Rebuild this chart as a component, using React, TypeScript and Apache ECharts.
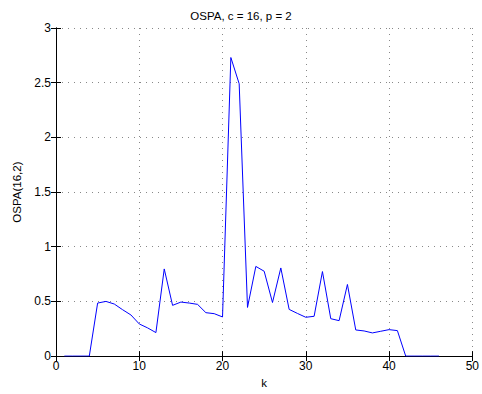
import React, { useEffect, useRef } from "react";
import * as echarts from "echarts";

const kValues = [1,2,3,4,5,6,7,8,9,10,11,12,13,14,15,16,17,18,19,20,21,22,23,24,25,26,27,28,29,30,31,32,33,34,35,36,37,38,39,40,41,42,43,44,45,46];
const ospaValues = [0,0,0,0,0.485,0.5,0.476,0.424,0.376,0.294,0.258,0.215,0.797,0.464,0.494,0.485,0.473,0.397,0.388,0.358,2.73,2.49,0.445,0.82,0.776,0.49,0.806,0.427,0.39,0.355,0.364,0.773,0.342,0.324,0.655,0.239,0.23,0.212,0.227,0.242,0.233,0,0,0,0,0];
const titleText = "OSPA, c = 16, p = 2";
const xName = "k";
const yName = "OSPA(16,2)";

const font = "'Liberation Sans', Arial, Helvetica, sans-serif";

export default function App() {
  const ref = useRef<HTMLDivElement>(null);
  useEffect(() => {
    if (!ref.current) return;
    const chart = echarts.init(ref.current, null, { renderer: "svg" });
    const tick = { show: true, inside: true, length: 5, lineStyle: { color: "#000", width: 1 } };
    const line = { show: true, lineStyle: { color: "#000", width: 1 } };
    const grid = { show: true, lineStyle: { color: "#888", type: [1, 5], width: 1 } };
    chart.setOption({
      animation: false,
      backgroundColor: "#fff",
      textStyle: { fontFamily: font },
      title: {
        text: titleText,
        left: "center",
        top: 5,
        textStyle: { fontSize: 11.5, fontWeight: "normal", color: "#000", fontFamily: font },
      },
      grid: { left: 56, right: 9, top: 28, bottom: 36 },
      xAxis: [
        {
          type: "value", min: 0, max: 50, interval: 10, position: "bottom",
          name: xName, nameLocation: "middle", nameGap: 17,
          nameTextStyle: { fontSize: 11.5, color: "#000", fontFamily: font },
          axisLine: line, axisTick: tick,
          axisLabel: { color: "#000", fontSize: 12, margin: 4, fontFamily: font },
          splitLine: grid,
        },
        {
          type: "value", min: 0, max: 50, interval: 10, position: "top",
          axisLine: line, axisTick: tick, axisLabel: { show: false }, splitLine: { show: false },
        },
      ],
      yAxis: [
        {
          type: "value", min: 0, max: 3, interval: 0.5, position: "left",
          name: yName, nameLocation: "middle", nameGap: 27,
          nameTextStyle: { fontSize: 11.5, color: "#000", fontFamily: font },
          axisLine: line, axisTick: tick,
          axisLabel: { color: "#000", fontSize: 12, margin: 5, fontFamily: font },
          splitLine: grid,
        },
        {
          type: "value", min: 0, max: 3, interval: 0.5, position: "right",
          axisLine: line, axisTick: tick, axisLabel: { show: false }, splitLine: { show: false },
        },
      ],
      series: [
        {
          type: "line",
          data: kValues.map((k, i) => [k, ospaValues[i]]),
          showSymbol: false,
          lineStyle: { color: "#0000ff", width: 1 },
          itemStyle: { color: "#0000ff" },
          xAxisIndex: 0,
          yAxisIndex: 0,
        },
      ],
    });
    return () => chart.dispose();
  }, []);
  return <div ref={ref} style={{ width: 482, height: 394, position: "absolute", left: 0, top: 0 }} />;
}
